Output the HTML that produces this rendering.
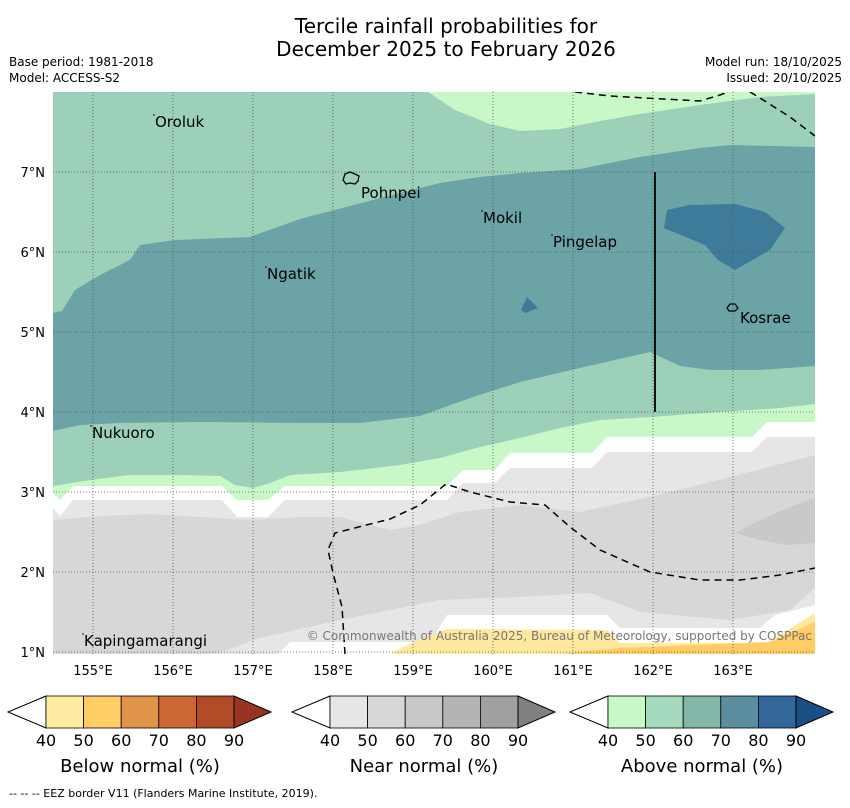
<!DOCTYPE html>
<html><head><meta charset="utf-8">
<style>
body{margin:0;background:#fff;width:850px;height:804px;overflow:hidden;font-family:"DejaVu Sans","Liberation Sans",sans-serif}
svg text{font-family:"DejaVu Sans","Liberation Sans",sans-serif}
</style></head>
<body>
<svg id="chart" width="850" height="804" viewBox="0 0 850 804" xmlns="http://www.w3.org/2000/svg">
<text x="446" y="33" font-size="20" text-anchor="middle">Tercile rainfall probabilities for</text>
<text x="446" y="56" font-size="20" text-anchor="middle">December 2025 to February 2026</text>
<text x="9" y="66" font-size="12">Base period: 1981-2018</text>
<text x="9" y="82" font-size="12">Model: ACCESS-S2</text>
<text x="842" y="66" font-size="12" text-anchor="end">Model run: 18/10/2025</text>
<text x="842" y="82" font-size="12" text-anchor="end">Issued: 20/10/2025</text>
<defs><clipPath id="mapclip"><rect x="53" y="92" width="762" height="562"/></clipPath></defs>
<g id="map" clip-path="url(#mapclip)"></g>
<g id="overlay"></g>
<g id="cbars"></g>
<text x="9" y="797" font-size="11">--  --  -- EEZ border V11 (Flanders Marine Institute, 2019).</text>
</svg>
<script>
const NS="http://www.w3.org/2000/svg";
// projection
const lon0=154.5, lat0=8, px0=53, py0=92, scale=80;
function xS(lon){return px0+(lon-lon0)*scale;}
function yS(lat){return py0+(lat0-lat)*scale;}
const lonTicks=[155,156,157,158,159,160,161,162,163];
const latTicks=[1,2,3,4,5,6,7];
// contour layers (map pixel-space outlines, painted in order)
const layerColors=["#9dd0b9","#c8f8c8","#6ba3a7","#9dd0b9","#c8f8c8","#ffffff","#e6e6e6","#d7d7d7","#c9c9c9","#e6e6e6","#ffffff","#ffe99e","#ffcc66","#3e7a99","#3e7a99"];
const layerNames=["above-normal-50-base","above-normal-40-north","above-normal-60-band","above-normal-50-south","above-normal-40-south","no-signal-band","near-normal-40","near-normal-50","near-normal-60","near-normal-40-south","no-signal-south","below-normal-40","below-normal-50","above-normal-70-east","above-normal-70-blob"];
const layerShapes=[
 [[53,92],[815,92],[815,654],[53,654]],
 [[428,92],[455,110],[490,124],[520,131],[560,129],[600,121],[640,114],[700,105],[760,97],[815,94],[815,92]],
 [[53,313],[62,311],[75,290],[100,275],[130,260],[140,245],[175,240],[250,237],[300,219],[350,206],[400,193],[440,183],[480,177],[520,173],[580,169],[640,157],[700,148],[730,145],[815,147],[815,654],[53,654]],
 [[53,431],[80,425],[120,423],[200,422],[300,423],[360,423],[420,416],[470,398],[520,382],[580,368],[650,352],[680,366],[710,370],[760,370],[815,366],[815,654],[53,654]],
 [[53,486],[90,480],[130,475],[180,475],[220,476],[235,485],[253,488],[270,483],[290,475],[340,472],[400,465],[440,458],[480,447],[520,438],[560,428],[600,420],[650,417],[720,412],[780,408],[815,404],[815,654],[53,654]],
 [[53,493],[60,500],[73,486],[222,486],[237,500],[268,500],[285,486],[447,486],[463,470],[495,470],[510,453],[592,453],[607,437],[752,437],[767,422],[815,422],[815,654],[53,654]],
 [[53,508],[60,516],[73,500],[222,500],[237,517],[268,517],[285,500],[447,500],[463,483],[495,483],[510,468],[592,468],[607,452],[752,452],[767,437],[815,437],[815,654],[53,654]],
 [[53,520],[100,516],[150,514],[250,520],[300,517],[340,517],[390,530],[420,525],[460,512],[520,505],[580,512],[650,497],[730,477],[815,455],[815,654],[53,654]],
 [[735,533],[760,520],[790,507],[815,498],[815,543],[787,545],[760,540]],
 [[215,654],[260,638],[340,620],[440,600],[520,597],[590,593],[640,612],[730,620],[790,610],[815,588],[815,654]],
 [[278,654],[290,642],[430,642],[447,615],[607,615],[620,628],[760,628],[775,615],[815,605],[815,654]],
 [[390,654],[407,645],[447,629],[607,630],[620,643],[767,643],[815,613],[815,654]],
 [[555,654],[620,648],[770,642],[815,622],[815,654]],
 [[667,210],[690,205],[735,204],[765,212],[785,228],[770,250],[735,270],[718,260],[705,245],[664,228]],
 [[521,310],[527,297],[538,308],[525,313]]
];
const eezLines=[
 [[575,92],[610,96],[645,98],[700,101],[720,95],[728,92]],
 [[750,92],[760,98],[790,117],[815,136]],
 [[345,654],[342,607],[333,573],[328,550],[335,533],[390,519],[420,505],[446,484],[470,492],[510,502],[545,505],[570,527],[600,550],[650,572],[700,580],[740,580],[780,575],[815,568]]
];
const placeNames=["Oroluk","Pohnpei","Mokil","Pingelap","Ngatik","Kosrae","Nukuoro","Kapingamarangi"];
const placeLon=[155.775,158.35,159.875,160.75,157.175,163.0875,154.9875,154.8875];
const placeLat=[7.5625,6.675,6.3625,6.0625,5.6625,5.1125,3.675,1.075];

const map=document.getElementById('map');
function el(tag,attrs,parent){const e=document.createElementNS(NS,tag);for(const k in attrs)e.setAttribute(k,attrs[k]);parent.appendChild(e);return e;}
layerShapes.forEach((pts,i)=>{
 const p=el('polygon',{points:pts.map(q=>q.join(',')).join(' '),fill:layerColors[i]},map);
 
 
});
// grid
lonTicks.forEach(l=>{
 const g=el('line',{x1:xS(l),x2:xS(l),y1:92,y2:654,stroke:'#555','stroke-width':0.8,'stroke-dasharray':'1,2'},map);
 
 
});
latTicks.forEach(l=>{
 const g=el('line',{x1:53,x2:815,y1:yS(l),y2:yS(l),stroke:'#555','stroke-width':0.8,'stroke-dasharray':'1,2'},map);
 
 
});
// EEZ
eezLines.forEach(pts=>{
 const l=el('polyline',{points:pts.map(q=>q.join(',')).join(' '),fill:'none',stroke:'#000','stroke-width':1.5,'stroke-dasharray':'7,5'},map);
 
 
});
const vl=el('line',{x1:655,x2:655,y1:172,y2:412,stroke:'#111','stroke-width':2},map);


// islands
const pohn=el('path',{d:'M343,180 l2,-6 l5,-2 l5,2 l4,2 l-1,5 l-3,3 l-5,-1 l-4,1 l-3,-4 z',fill:'none',stroke:'#000','stroke-width':1.3},map);


const kos=el('path',{d:'M727,308 l3,-4 l5,0 l3,4 l-3,3 l-6,0 z',fill:'none',stroke:'#000','stroke-width':1.2},map);


placeNames.forEach((n,i)=>{
 const x=xS(placeLon[i]),y=yS(placeLat[i]);
 if(n!=='Pohnpei'&&n!=='Kosrae'){
  const d=el('circle',{cx:x-1,cy:y-12,r:0.8,fill:'#000'},map);
  
  
 }
 const t=el('text',{x:x,y:y,'font-size':15},map);
 t.textContent=n;
 
 
});
const cp=el('text',{x:812,y:640,'font-size':12,fill:'#777','text-anchor':'end'},map);
cp.textContent='© Commonwealth of Australia 2025, Bureau of Meteorology, supported by COSPPac';


const ov=document.getElementById('overlay');
lonTicks.forEach(l=>{
 const t=el('text',{x:xS(l),y:675,'font-size':13,'text-anchor':'middle'},ov);
 t.textContent=l+'°E';
 
 
});
latTicks.forEach(l=>{
 const t=el('text',{x:45,y:yS(l)+5,'font-size':13,'text-anchor':'end'},ov);
 t.textContent=l+'°N';
 
 
});
// colorbars
const cbLabels=[40,50,60,70,80,90];
const cbTitles=["Below normal (%)","Near normal (%)","Above normal (%)"];
const cbColors=[["#ffeca0","#ffcc66","#e0944a","#cc6633","#b04c28","#993322"],["#e6e6e6","#d7d7d7","#c8c8c8","#b4b4b4","#a0a0a0","#808080"],["#c8f8c8","#a6dabf","#83b7aa","#5b8fa0","#336699","#1a4f85"]];
const cbStart=[46,330,608];
const cb=document.getElementById('cbars');
cbStart.forEach((x0,k)=>{
 const w=37.6,y0=696,h=32;
 const g=el('g',{},cb);
 
 
 el('polygon',{points:`${x0},${y0} ${x0-38},${y0+h/2} ${x0},${y0+h}`,fill:'#fff',stroke:'#000','stroke-width':1},g);
 for(let i=0;i<5;i++){
  const r=el('rect',{x:x0+i*w,y:y0,width:w,height:h,fill:cbColors[k][i],stroke:'#000','stroke-width':0.8},g);
  
  
 }
 const xe=x0+5*w;
 el('polygon',{points:`${xe},${y0} ${xe+37},${y0+h/2} ${xe},${y0+h}`,fill:cbColors[k][5],stroke:'#000','stroke-width':1},g);
 cbLabels.forEach((v,i)=>{
  const t=el('text',{x:x0+i*w,y:746,'font-size':16,'text-anchor':'middle'},g);
  t.textContent=v;
  
  
 });
 const t=el('text',{x:x0+2.5*w,y:772,'font-size':18,'text-anchor':'middle'},g);
 t.textContent=cbTitles[k];
 
 
});
</script>
</body></html>
